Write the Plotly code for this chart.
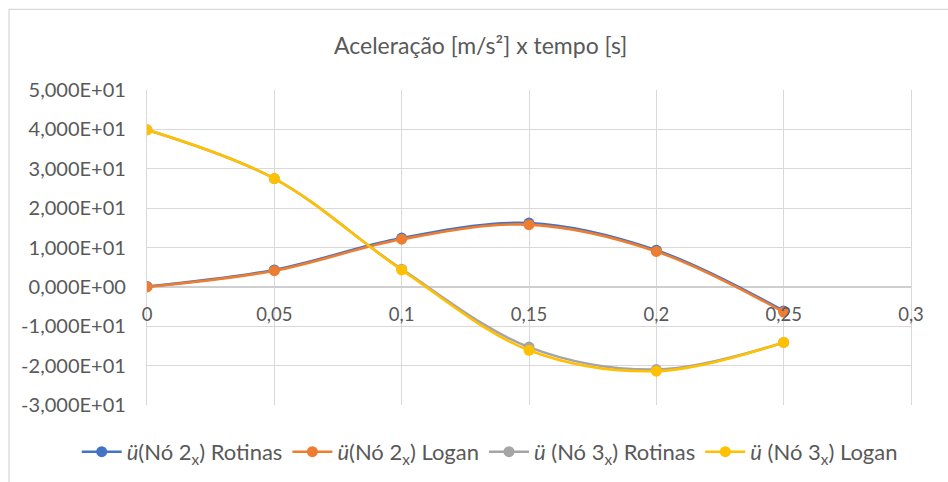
import plotly.graph_objects as go

# Time instants [s]
tempo = [0, 0.05, 0.1, 0.15, 0.2, 0.25]

# Accelerations [m/s²]
no2_rotinas = [0.1, 4.3, 12.4, 16.2, 9.3, -6.1]
no2_logan = [0.0, 4.1, 12.1, 15.8, 9.0, -6.4]
no3_rotinas = [39.9, 27.5, 4.5, -15.3, -21.0, -14.1]
no3_logan = [39.9, 27.5, 4.3, -16.1, -21.4, -14.1]

series_names = [
    "<i>ü</i>(Nó 2<sub>x</sub>) Rotinas",
    "<i>ü</i>(Nó 2<sub>x</sub>) Logan",
    "<i>ü</i> (Nó 3<sub>x</sub>) Rotinas",
    "<i>ü</i> (Nó 3<sub>x</sub>) Logan",
]
series_colors = ["#4472C4", "#ED7D31", "#A5A5A5", "#FFC000"]

# Axis ticks
y_ticks = [50, 40, 30, 20, 10, 0, -10, -20, -30]
y_ticktext = [f"{v:.3E}".replace(".", ",") for v in y_ticks]
x_ticks = [0, 0.05, 0.1, 0.15, 0.2, 0.25, 0.3]
x_ticktext = [str(v).replace(".", ",") for v in x_ticks]

FONT = "Lato"
TEXT = "#595959"
GRID = "#D9D9D9"

fig = go.Figure()
for name, ys, col in zip(series_names,
                         [no2_rotinas, no2_logan, no3_rotinas, no3_logan],
                         series_colors):
    fig.add_trace(go.Scatter(
        x=tempo, y=ys, name=name, mode="lines+markers",
        line=dict(color=col, width=2.6, shape="spline", smoothing=1),
        marker=dict(color=col, size=11, line=dict(width=0)),
    ))

# Light frame around the whole chart
fig.add_shape(type="rect", xref="paper", yref="paper",
              x0=-0.1806, x1=1.06, y0=-0.30, y1=1.256,
              line=dict(color="#D9D9D9", width=1.3), fillcolor="rgba(0,0,0,0)",
              layer="below")

fig.update_layout(
    width=948, height=482,
    margin=dict(l=147, r=37, t=90, b=77, autoexpand=False),
    paper_bgcolor="white", plot_bgcolor="white",
    font=dict(family=FONT, color=TEXT, size=18),
    title=dict(text="Aceleração [m/s²] x tempo [s]", x=0.507, xref="container",
               xanchor="center", y=0.905, yref="container", yanchor="middle",
               font=dict(family=FONT, size=23, color=TEXT)),
    showlegend=True,
    # anchored left of the plot area so the single row may use the left margin
    legend=dict(orientation="h", x=-0.092, xanchor="left",
                y=-0.149, yanchor="middle",
                font=dict(family=FONT, size=22, color=TEXT),
                itemwidth=40, tracegroupgap=0),
    # x labels sit just under the zero line
    xaxis=dict(range=[0, 0.3], tickvals=x_ticks, ticktext=x_ticktext,
               showgrid=True, gridcolor=GRID, gridwidth=1.3,
               zeroline=False, showline=False, ticks="",
               anchor="free", position=0.375, ticklabelstandoff=15,
               tickfont=dict(family=FONT, size=18.5, color=TEXT)),
    yaxis=dict(range=[-30, 50], tickvals=y_ticks, ticktext=y_ticktext,
               showgrid=True, gridcolor=GRID, gridwidth=1.3,
               zeroline=True, zerolinecolor="#CFCFCF", zerolinewidth=1.6,
               showline=True, mirror=True, linecolor=GRID, linewidth=1.3,
               ticks="", ticklabelstandoff=16,
               tickfont=dict(family=FONT, size=20, color=TEXT)),
)

fig.write_html("out.html")
